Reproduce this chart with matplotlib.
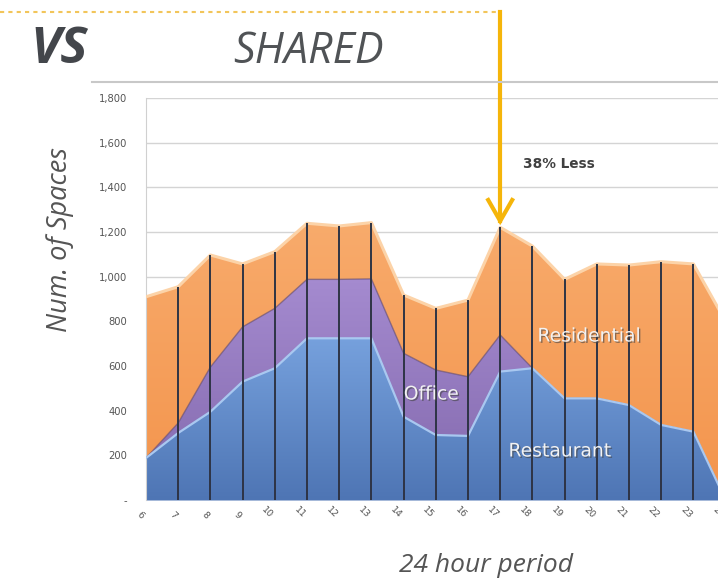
import numpy as np
import matplotlib.pyplot as plt
import matplotlib.patheffects as pe
from matplotlib.colors import LinearSegmentedColormap

# %% data
hours = list(range(6, 25))
hour_labels = [str(h) for h in hours]
restaurant = [188, 300, 395, 530, 590, 724, 724, 724, 373, 291, 287, 575, 590, 455, 455, 425, 336, 306, 0]
office = [0, 45, 200, 245, 268, 264, 264, 266, 284, 291, 265, 164, 0, 0, 0, 0, 0, 0, 0]
residential = [722, 610, 502, 282, 254, 251, 239, 252, 261, 276, 343, 482, 547, 533, 602, 627, 731, 751, 800]
y_ticks = [0, 200, 400, 600, 800, 1000, 1200, 1400, 1600, 1800]
y_labels = ["-", "200", "400", "600", "800", "1,000", "1,200", "1,400", "1,600", "1,800"]
callout_hour = 17

# %% figure
W, H = 718, 582
fig = plt.figure(figsize=(W / 100, H / 100), dpi=100)

def px(x0, y0):
    return x0 / W, 1 - y0 / H

# axes: hour 6 at x=146, step 32.2 px, 0 at y=500, 1800 at y=98
step = 32.2
ax = fig.add_axes([146 / W, (H - 500) / H, 18 * step / W, 402 / H])
ax.set_xlim(6, 24)
ax.set_ylim(0, 1800)

x = np.array(hours)
r = np.array(restaurant)
o = r + np.array(office)
t = o + np.array(residential)

def grad_fill(y1, y2, c_top, c_bot, vmax):
    poly = ax.fill_between(x, y1, y2, color=c_bot, lw=0, zorder=2)
    cmap = LinearSegmentedColormap.from_list("g", [c_bot, c_top])
    g = np.linspace(0, 1, 256).reshape(-1, 1)
    im = ax.imshow(g, cmap=cmap, origin="lower", aspect="auto",
                   extent=(6, 24, 0, vmax), zorder=2.1, interpolation="bilinear")
    im.set_clip_path(poly.get_paths()[0], transform=ax.transData)
    return poly

grad_fill(0, r, "#78a3df", "#4e75b4", 760)
grad_fill(r, o, "#a58bd0", "#8268ac", 1000)
grad_fill(o, t, "#f8ab6c", "#f3944c", 1250)
ax.set_xlim(6, 24)
ax.set_ylim(0, 1800)

# edge highlights
ax.plot(x, t, color="#fcd3a8", lw=2.2, zorder=3)
ax.plot(x, o, color="#5a4a7a", lw=1.0, alpha=0.6, zorder=3)
ax.plot(x, r, color="#a9c8f0", lw=1.6, zorder=3)

# drop lines
ax.vlines(x[1:], 0, t[1:], color="#2e3445", lw=1.4, zorder=4)

ax.set_yticks(y_ticks)
ax.set_yticklabels(y_labels, fontsize=7.2, color="#555555")
ax.set_xticks(hours)
ax.set_xticklabels(hour_labels, fontsize=6.8, color="#555555", rotation=-45,
                   ha="right", va="top", rotation_mode="anchor")
ax.tick_params(length=0)
ax.tick_params(axis="x", pad=10)
ax.tick_params(axis="y", pad=13.5)
ax.grid(axis="y", color="#d4d4d4", lw=1, zorder=0)
for s in ["top", "right", "bottom"]:
    ax.spines[s].set_visible(False)
ax.spines["left"].set_color("#d0d0d0")

# area labels
shadow = [pe.withSimplePatchShadow(offset=(1, -1), shadow_rgbFace="#444444", alpha=0.6)]
lab = dict(fontsize=13.5, color="#f2f2f2", family="DejaVu Sans",
           ha="center", va="center", path_effects=shadow, zorder=6)
fig.text(*px(589, 336), "Residential", **lab)
fig.text(*px(431, 394), "Office", **lab)
fig.text(*px(560, 451), "Restaurant", **lab)

fig.text(*px(559, 164), "38% Less", fontsize=9.8, fontweight="bold",
         color="#404040", ha="center", va="center")

# callout arrow and dotted guide
gold = "#f5b50a"
fig.add_artist(plt.Line2D([0, 497 / W], [1 - 12 / H] * 2, color="#f2c55a",
                          lw=1.5, ls=(0, (2, 2))))
ax_x = 146 + (callout_hour - 6) * step
fig.add_artist(plt.Line2D([ax_x / W] * 2, [1 - 12 / H, 1 - 221 / H], color=gold, lw=3))
fig.add_artist(plt.Line2D([(ax_x - 12) / W, ax_x / W, (ax_x + 12) / W],
                          [1 - 200 / H, 1 - 221 / H, 1 - 200 / H],
                          color=gold, lw=3, solid_joinstyle="miter"))

# slide separator
fig.add_artist(plt.Line2D([92 / W, 1], [1 - 82 / H] * 2, color="#c8c8c8", lw=1.5))

# titles
fig.text(*px(59, 50), "VS", fontsize=37, fontweight="bold", style="italic",
         family="Open Sans", color="#43464b", ha="center", va="center")
fig.text(*px(308, 52), "SHARED", fontsize=31, style="italic",
         family="Open Sans", color="#505356", ha="center", va="center")
fig.text(*px(60, 240), "Num. of Spaces", fontsize=19.5, style="italic",
         family="Open Sans", color="#555555", rotation=90, ha="center", va="center")
fig.text(*px(486, 566), "24 hour period", fontsize=19, style="italic",
         family="Open Sans", color="#555555", ha="center", va="center")

fig.savefig("out.png", dpi=100)
